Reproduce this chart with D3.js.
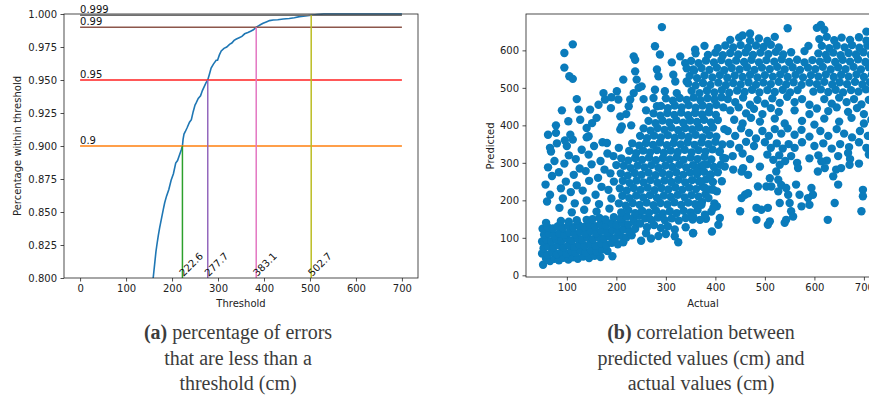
<!DOCTYPE html>
<html>
<head>
<meta charset="utf-8">
<script src="https://cdn.jsdelivr.net/npm/d3@7"></script>
<style>
  body { margin: 0; background: #fff; }
  text { font-family: "DejaVu Sans", sans-serif; }
  .caption { font-family: "Liberation Serif", serif; fill: #3c3c3c; font-size: 20px; }
</style>
</head>
<body>
<svg width="869" height="402"></svg>
<script>
// ---- left chart: share of errors under a threshold ----
const cdfThreshold = [159,162,165,167,170,173,177,181,184,188,193,198,203,208,212,216,220,222.6,224,226,229,233,238,242,246,250,253,257,262,266,270,274,277.7,281,285,290,296,299,303,307,313,319,325,330,335,340,346,352,358,365,371,377,383.1,388,393,398,405,412,420,430,442,455,466,477,490,502.7,515,530,700];
const cdfPercent = [0.800,0.810,0.820,0.825,0.832,0.838,0.845,0.852,0.857,0.862,0.867,0.874,0.879,0.887,0.889,0.893,0.897,0.900,0.905,0.909,0.911,0.914,0.918,0.920,0.926,0.931,0.933,0.936,0.938,0.942,0.945,0.948,0.950,0.954,0.959,0.962,0.965,0.965,0.969,0.972,0.974,0.975,0.977,0.978,0.980,0.981,0.982,0.983,0.985,0.986,0.987,0.988,0.990,0.991,0.992,0.993,0.994,0.995,0.9955,0.9957,0.9962,0.9966,0.9972,0.998,0.9985,0.999,0.9995,1.000,1.000];

const levels = [0.9, 0.95, 0.99, 0.999];
const levelColors = ['#ff7f0e', '#ff2020', '#8c564b', '#6f6f6f'];
const cutValues = [222.6, 277.7, 383.1, 502.7];
const cutColors = ['#2ca02c', '#9467bd', '#e377c2', '#bcbd22'];

const leftXTicks = [0, 100, 200, 300, 400, 500, 600, 700];
const leftYTicks = [0.800, 0.825, 0.850, 0.875, 0.900, 0.925, 0.950, 0.975, 1.000];

// ---- right chart: predicted vs actual (cm) ----
const lowCluster = [
  [52,28],[58,45],[66,38],[75,44],[84,40],[93,47],[103,42],[112,48],[122,44],[133,50],[145,46],[156,52],[168,49],[192,51],
  [50,58],[61,55],[70,62],[80,57],[90,63],[99,58],[109,64],[118,60],[128,66],[138,61],[149,67],[160,63],[171,69],[182,65],
  [53,72],[62,78],[73,74],[83,80],[94,75],[104,81],[115,76],[125,82],[136,78],[147,84],[158,79],[169,86],[180,81],[191,87],[203,83],[214,88],
  [50,90],[59,95],[69,91],[79,97],[89,92],[100,98],[110,93],[121,99],[131,95],[142,101],[153,96],[164,102],[175,98],[186,104],[197,99],[208,106],[220,101],[231,107],
  [54,108],[64,112],[74,107],[85,113],[95,109],[106,115],[116,110],[127,116],[137,112],[148,118],[159,113],[170,119],[181,114],[192,121],[203,116],[214,123],[226,118],[238,124],
  [51,124],[61,129],[72,125],[82,131],[92,126],[103,132],[113,128],[124,134],[135,129],[146,135],[157,131],[168,137],[179,132],[190,139],[201,134],[212,141],[224,136],[236,143],[248,138],
  [58,140],[88,145],[104,143],[120,147],[140,148],[152,150],[166,153],[178,149],[195,155],[208,151],[221,157],[234,153],[246,159],[258,152],
  [262,128],[276,134],[290,126],[304,131],[318,122],[340,128],[355,112],[325,88],[318,104],[300,110],[285,105],[270,98],[260,112],[250,92]
];
const leftSpread = [
  [60,197],[66,215],[57,242],[70,265],[62,288],[75,305],[68,330],[80,352],[85,180],[92,205],[88,232],[98,250],[84,275],[95,298],
  [104,320],[100,345],[110,168],[116,192],[108,222],[120,240],[114,268],[126,285],[118,310],[130,335],[135,175],[140,200],[132,226],
  [145,252],[138,278],[150,296],[144,322],[155,345],[160,170],[165,190],[158,215],[170,236],[163,260],[176,282],[168,305],[182,325],
  [186,178],[190,205],[184,228],[195,250],[188,272],[200,294],[194,318],[205,340],[96,360],[78,380],[62,375],[112,362],[140,368],[172,355]
];
const upperLeft = [
  [95,593],[112,616],[95,554],[105,531],[112,524],[103,411],[107,375],[124,442],[127,415],[140,393],[147,442],[151,406],[144,371],
  [164,455],[174,486],[177,469],[189,446],[181,353],[201,491],[204,469],[208,424],[211,397],[214,522],[208,389],[235,584],[238,575],
  [238,544],[241,522],[245,500],[235,486],[228,469],[225,451],[251,504],[90,440],[78,400],[66,340],[120,470],[160,420],[190,475],
  [220,430],[230,400],[255,470],[260,440],[278,611],[288,589],[282,549],[285,531],[278,495],[275,473],[282,451],[298,491],[312,568],
  [315,535],[329,584],[339,566],[359,602],[342,517],[319,517],[322,486],[355,549],[292,662]
];
const midBand = [
  [270,148],[284,154],[298,147],[312,152],[326,146],[340,153],[354,149],[381,151],
  [210,168],[224,174],[238,166],[252,172],[266,167],[280,173],[294,165],[308,171],[322,166],[336,172],[350,168],[364,174],[392,170],
  [205,192],[219,186],[233,193],[247,188],[261,194],[275,187],[289,193],[303,189],[317,195],[331,188],[345,194],[359,190],[373,196],[398,192],
  [212,212],[226,206],[240,213],[254,208],[268,214],[282,207],[296,213],[310,209],[324,215],[338,208],[352,214],[366,210],[380,216],
  [207,232],[221,226],[235,233],[249,228],[263,234],[277,227],[291,233],[305,229],[319,235],[333,228],[347,234],[361,230],[375,236],[389,229],
  [213,252],[227,246],[241,253],[255,248],[269,254],[283,247],[297,253],[311,249],[325,255],[339,248],[353,254],[367,250],[381,256],[395,249],
  [209,272],[223,266],[237,273],[251,268],[265,274],[279,267],[293,273],[307,269],[321,275],[335,268],[349,274],[363,270],[377,276],[391,269],[405,275],
  [215,292],[229,286],[243,293],[257,288],[271,294],[285,287],[299,293],[313,289],[327,295],[341,288],[355,294],[369,290],[383,296],[397,289],[411,295],
  [210,312],[224,306],[238,313],[252,308],[266,314],[280,307],[294,313],[308,309],[322,315],[336,308],[350,314],[364,310],[378,316],[392,309],[420,312],
  [226,332],[240,326],[254,333],[268,328],[282,334],[296,327],[310,333],[324,329],[338,335],[352,328],[366,334],[380,330],[394,336],[408,329],
  [232,352],[246,346],[260,353],[274,348],[288,354],[302,347],[316,353],[330,349],[344,355],[358,348],[372,354],[386,350],[400,356],[414,349],
  [248,372],[262,366],[276,373],[290,368],[304,374],[318,367],[332,373],[346,369],[360,375],[374,368],[388,374],[402,370],
  [255,392],[269,386],[283,393],[297,388],[311,394],[325,387],[339,393],[353,389],[367,395],[381,388],[395,394],[418,390],
  [265,412],[279,406],[293,413],[307,408],[321,414],[335,407],[349,413],[363,409],[377,415],[391,408],[405,414],
  [275,432],[289,426],[303,433],[317,428],[331,434],[345,427],[359,433],[373,429],[387,435],[401,428],
  [290,452],[304,446],[318,453],[332,448],[346,454],[360,447],[374,453],[388,449],[402,455],[416,448],
  [300,472],[314,466],[328,473],[342,468],[356,474],[370,467],[384,473],[398,469],[412,475]
];
const topCluster = [
  [352,492],[368,486],[383,493],[398,488],[413,494],[428,487],[444,493],[459,489],[474,495],[489,488],[505,494],[520,489],[536,495],[551,488],[566,494],[598,490],[613,496],[628,489],[643,495],[658,488],[674,494],[689,490],[704,496],[718,489],
  [345,512],[360,506],[375,513],[390,508],[406,514],[421,507],[436,513],[451,509],[467,515],[482,508],[497,514],[512,510],[528,516],[543,509],[558,515],[574,508],[590,514],[605,510],[620,516],[636,509],[651,515],[666,510],[682,516],[697,509],[712,515],
  [348,532],[363,526],[378,533],[394,528],[409,534],[424,527],[439,533],[455,529],[470,535],[485,528],[500,534],[516,530],[531,536],[546,529],[562,535],[577,528],[593,534],[608,530],[623,536],[639,529],[654,535],[669,530],[685,536],[700,529],[716,535],
  [342,552],[357,546],[372,553],[388,548],[403,554],[418,547],[433,553],[449,549],[464,555],[479,548],[494,554],[510,550],[525,556],[540,549],[556,555],[571,548],[587,554],[602,550],[617,556],[633,549],[648,555],[663,550],[679,556],[694,549],[710,555],
  [351,572],[366,566],[381,573],[397,568],[412,574],[427,567],[442,573],[458,569],[473,575],[488,568],[503,574],[519,570],[534,576],[549,569],[565,575],[580,568],[596,574],[611,570],[626,576],[642,569],[657,575],[672,570],[688,576],[703,569],[718,575],
  [360,592],[385,588],[400,594],[415,587],[430,593],[446,589],[461,595],[476,588],[491,594],[507,590],[522,596],[537,589],[553,595],[608,592],[623,588],[638,594],[653,587],[669,593],[684,589],[699,595],[714,588],
  [378,612],[405,606],[420,613],[436,608],[451,614],[466,607],[482,613],[497,609],[512,615],[528,608],[615,612],[630,606],[645,613],[661,608],[676,614],[691,607],[707,613],
  [430,628],[448,634],[470,626],[488,632],[505,625],[520,636],[610,630],[625,636],[640,627],[655,634],[672,628],[690,635],[705,626],
  [546,659],[613,668],[605,660],[620,655],[705,650],[455,640],[470,645],[588,612],[580,598]
];
const topFringe = [
  [425,470],[440,462],[456,474],[470,455],[485,468],[500,458],[515,472],[530,460],[545,476],[560,462],[575,470],[590,455],[620,470],[635,458],[650,474],[665,462],[680,470],[695,456],[710,468],
  [430,440],[447,448],[462,432],[478,444],[495,430],[512,446],[528,436],[560,440],[590,430],[605,445],[628,438],[645,448],[668,436],[686,446],[700,430],
  [438,415],[455,405],[472,420],[490,410],[520,418],[540,405],[575,412],[600,402],[620,418],[650,410],[675,420],[700,405],[715,415],
  [425,385],[440,372],[452,392],[468,380],[482,365],[495,385],[508,372],[520,390],[533,378],[546,392],[560,375],[574,388],[590,370],[612,385],[628,372],[645,390],[660,378],[676,368],[692,385],[708,372],
  [430,350],[448,340],[462,356],[478,345],[500,355],[512,340],[524,352],[536,338],[548,350],[560,340],[575,355],[600,345],[618,352],[635,338],[652,350],[670,342],[690,355],[705,340],
  [435,318],[455,325],[470,310],[505,322],[517,308],[529,320],[541,305],[553,318],[565,300],[590,312],[608,320],[625,306],[648,318],[672,310],[690,298],[710,322]
];
const lowerRight = [
  [409,331],[416,313],[419,290],[413,251],[403,224],[396,228],[403,184],[396,180],[409,153],[406,135],[393,117],[436,282],[453,277],
  [456,286],[466,268],[490,290],[486,237],[460,215],[453,206],[466,219],[450,171],[483,180],[493,175],[506,180],[483,148],[506,135],
  [510,144],[503,237],[513,237],[510,259],[523,277],[530,295],[527,255],[533,241],[527,224],[530,193],[543,233],[547,215],[550,193],
  [553,171],[543,148],[540,140],[557,157],[567,286],[563,242],[570,215],[574,184],[587,206],[590,188],[594,233],[597,215],[607,277],
  [614,304],[621,286],[638,264],[644,282],[654,286],[648,242],[641,193],[627,148],[671,295],[668,326],[698,228],[698,211],[695,171],
  [355,157],[369,148],[355,113],[379,162],[372,188],[386,206],[379,233],[369,251],[389,268],[362,277],[376,295]
];
const scatterGroups = [lowCluster, leftSpread, upperLeft, midBand, topCluster, topFringe, lowerRight];

const rightXTicks = [100, 200, 300, 400, 500, 600, 700];
const rightYTicks = [0, 100, 200, 300, 400, 500, 600];

const captionA = [['(a)', ' percentage of errors'], ['', 'that are less than a'], ['', 'threshold (cm)']];
const captionB = [['(b)', ' correlation between'], ['', 'predicted values (cm) and'], ['', 'actual values (cm)']];

const svg = d3.select('svg');
svg.append('rect').attr('width', 869).attr('height', 402).attr('fill', '#fff');

function styleAxis(g) {
  g.select('.domain').remove();
  g.selectAll('text').attr('font-size', 10).attr('fill', '#222').attr('font-family', 'DejaVu Sans, sans-serif');
  g.selectAll('line').attr('stroke', '#222').attr('stroke-width', 0.8);
}

// ===== left =====
const xL = d3.scaleLinear().domain([-35, 735]).range([64, 418]);
const yL = d3.scaleLinear().domain([0.8, 1.0]).range([278, 14]);

svg.append('path')
  .datum(cdfThreshold.map((t, i) => [t, cdfPercent[i]]))
  .attr('d', d3.line().x(d => xL(d[0])).y(d => yL(d[1])))
  .attr('fill', 'none').attr('stroke', '#1f77b4').attr('stroke-width', 1.6);

levels.forEach((lv, i) => {
  svg.append('line')
    .attr('x1', xL(0)).attr('x2', xL(700))
    .attr('y1', yL(lv)).attr('y2', yL(lv))
    .attr('stroke', levelColors[i]).attr('stroke-width', 1.5);
  svg.append('text')
    .attr('x', xL(0)).attr('y', yL(lv) - 2)
    .attr('font-size', 10).attr('fill', '#111')
    .text(String(lv));
});

cutValues.forEach((c, i) => {
  svg.append('line')
    .attr('x1', xL(c)).attr('x2', xL(c))
    .attr('y1', yL(0.8)).attr('y2', yL(levels[i]))
    .attr('stroke', cutColors[i]).attr('stroke-width', 1.5);
  svg.append('text')
    .attr('transform', `translate(${xL(c) + 1},${yL(0.8) - 1}) rotate(-45)`)
    .attr('font-size', 10).attr('fill', '#111')
    .text(c.toFixed(1));
});

svg.append('rect').attr('x', 64).attr('y', 14).attr('width', 354).attr('height', 264)
  .attr('fill', 'none').attr('stroke', '#222').attr('stroke-width', 0.8);

svg.append('g').attr('transform', 'translate(0,278)')
  .call(d3.axisBottom(xL).tickValues(leftXTicks).tickSize(3.5).tickPadding(3.5))
  .call(styleAxis);
svg.append('g').attr('transform', 'translate(64,0)')
  .call(d3.axisLeft(yL).tickValues(leftYTicks).tickFormat(d3.format('.3f')).tickSize(3.5).tickPadding(3.5))
  .call(styleAxis);

svg.append('text').attr('x', 241).attr('y', 307).attr('text-anchor', 'middle')
  .attr('font-size', 10).attr('fill', '#222').text('Threshold');
svg.append('text').attr('transform', 'translate(21,146) rotate(-90)').attr('text-anchor', 'middle')
  .attr('font-size', 10).attr('fill', '#222').text('Percentage within threshold');

// ===== right =====
const xR = d3.scaleLinear().domain([17.5, 732.5]).range([526, 880]);
const yR = d3.scaleLinear().domain([-4.5, 697]).range([277, 14]);

const allPoints = scatterGroups.flat();
svg.append('g').selectAll('circle')
  .data(allPoints).join('circle')
  .attr('cx', d => xR(d[0])).attr('cy', d => yR(d[1]))
  .attr('r', 4.2).attr('fill', '#0a7bbb');

svg.append('rect').attr('x', 526).attr('y', 14).attr('width', 354).attr('height', 263)
  .attr('fill', 'none').attr('stroke', '#222').attr('stroke-width', 0.8);

svg.append('g').attr('transform', 'translate(0,277)')
  .call(d3.axisBottom(xR).tickValues(rightXTicks).tickSize(3.5).tickPadding(3.5))
  .call(styleAxis);
svg.append('g').attr('transform', 'translate(526,0)')
  .call(d3.axisLeft(yR).tickValues(rightYTicks).tickSize(3.5).tickPadding(3.5))
  .call(styleAxis);

svg.append('text').attr('x', 703).attr('y', 307).attr('text-anchor', 'middle')
  .attr('font-size', 10).attr('fill', '#222').text('Actual');
svg.append('text').attr('transform', 'translate(494,146) rotate(-90)').attr('text-anchor', 'middle')
  .attr('font-size', 10).attr('fill', '#222').text('Predicted');

// ===== captions =====
function caption(lines, cx) {
  lines.forEach((ln, i) => {
    const t = svg.append('text').attr('class', 'caption')
      .attr('x', cx).attr('y', 339 + i * 25.5).attr('text-anchor', 'middle');
    if (ln[0]) t.append('tspan').attr('font-weight', 'bold').text(ln[0]);
    t.append('tspan').text(ln[1]);
  });
}
caption(captionA, 238);
caption(captionB, 701);
</script>
</body>
</html>
